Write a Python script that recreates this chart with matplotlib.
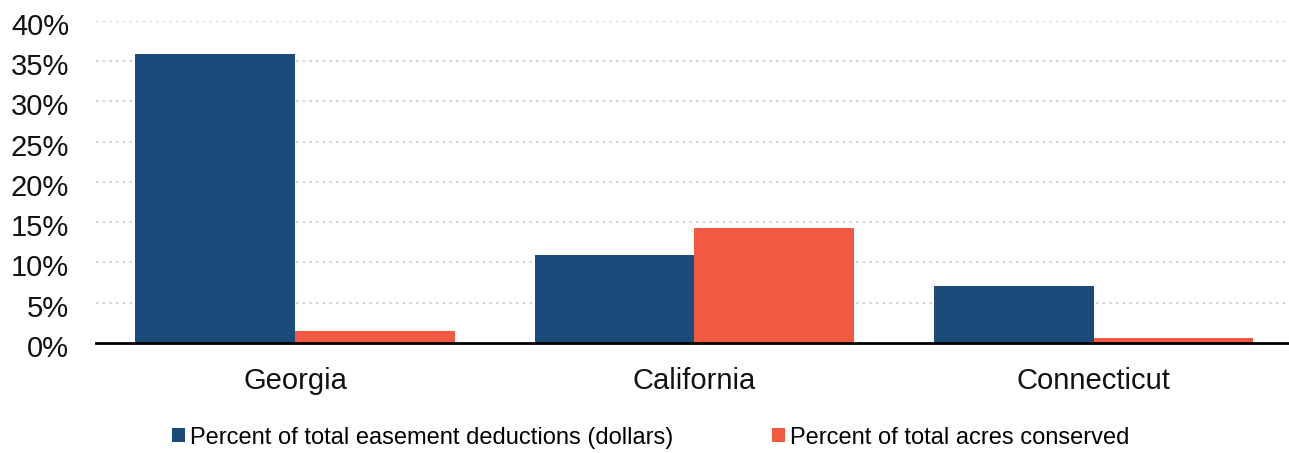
import matplotlib.pyplot as plt
import matplotlib.transforms as mtransforms
import numpy as np
from matplotlib.ticker import PercentFormatter

# Data
states = ["Georgia", "California", "Connecticut"]
deductions_pct = [35.9, 10.9, 7.1]   # Percent of total easement deductions (dollars)
acres_pct = [1.5, 14.3, 0.65]        # Percent of total acres conserved

blue = "#1a4b7b"
red = "#f15a40"

plt.rcParams['font.family'] = ['Liberation Sans', 'DejaVu Sans']

fig = plt.figure(figsize=(12.89, 4.53), dpi=100)
ax = fig.add_axes([0.0741, 0.243, 0.926, 0.7106])

x = np.arange(len(states))
w = 0.4
ax.bar(x - w / 2, deductions_pct, w, color=blue, label="Percent of total easement deductions (dollars)")
ax.bar(x + w / 2, acres_pct, w, color=red, label="Percent of total acres conserved")

ax.set_xlim(-0.5, 2.49)
ax.set_ylim(0, 40)
ax.set_yticks(np.arange(0, 41, 5))
ax.yaxis.set_major_formatter(PercentFormatter(decimals=0))
ax.set_xticks(x)
ax.set_xticklabels(states)

ax.grid(axis='y', color='#cccccc', linestyle=(0, (1.5, 2.5)), linewidth=1.2)
ax.set_axisbelow(True)
for s in ['top', 'right', 'left']:
    ax.spines[s].set_visible(False)
ax.spines['bottom'].set_linewidth(2)
ax.tick_params(axis='y', length=0, pad=19, labelsize=21, colors='#111111')
ax.tick_params(axis='x', length=0, pad=17, labelsize=21, colors='#111111')

# nudge y labels a little down like the original
shift = mtransforms.ScaledTranslation(0, -3 / 100, fig.dpi_scale_trans)
for lbl in ax.get_yticklabels():
    lbl.set_transform(lbl.get_transform() + shift)

fig.legend(loc='center', bbox_to_anchor=(0.505, 0.034), ncol=2, frameon=False,
           fontsize=17, handlelength=0.55, handleheight=0.55, handletextpad=0.2,
           columnspacing=4.2)

fig.savefig("out.png", dpi=100)
